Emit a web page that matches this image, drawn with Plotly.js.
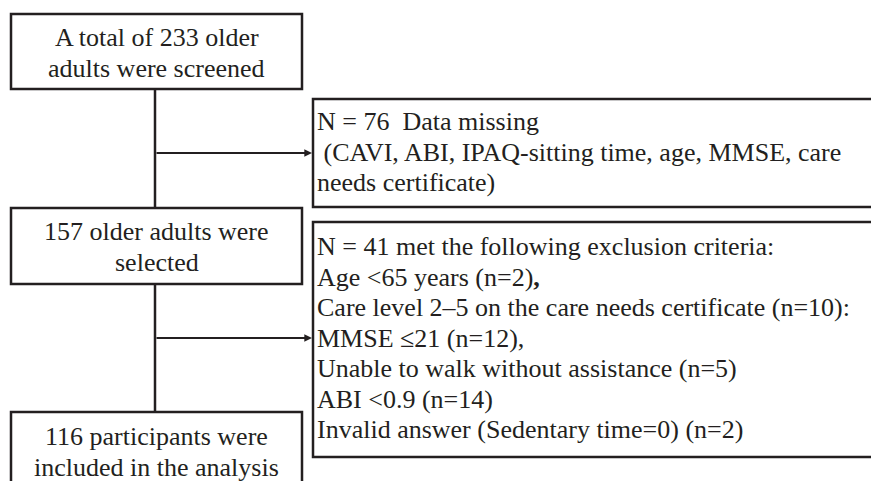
<!DOCTYPE html>
<html>
<head>
<meta charset="utf-8">
<script src="https://cdn.plot.ly/plotly-3.0.1.min.js"></script>
<style>html,body{margin:0;padding:0;background:#fff;}#chart{width:871px;height:481px;}</style>
</head>
<body>
<div id="chart"></div>
<script>
// Flowchart content
const mainSteps = [
  ["A total of 233 older", "adults were screened"],
  ["157 older adults were", "selected"],
  ["116 participants were", "included in the analysis"]
];
const exclusionLines = [
  ["N = 76 \u00a0Data missing",
   "\u00a0(CAVI, ABI, IPAQ-sitting time, age, MMSE, care",
   "needs certificate)"],
  ["N = 41 met the following exclusion criteria:",
   "Age &lt;65 years (n=2)<b>,</b>",
   "Care level 2\u20135 on the care needs certificate (n=10):",
   "MMSE \u226421 (n=12),",
   "Unable to walk without assistance (n=5)",
   "ABI &lt;0.9 (n=14)",
   "Invalid answer (Sedentary time=0) (n=2)"]
];

// Layout geometry (pixels, y downward)
const mainBoxes = [[11, 302, 14, 89], [11, 302, 208, 284], [11, 302, 412, 492]];
const mainTextY = [53, 247, 452];
const sideBoxes = [[313, 885, 99, 207], [313, 885, 222, 457]];
const sideTextY = [152, 338];
const arrowY = [153, 338];
const spineX = 155;
const lineGap = 30.5;
const ink = "#231f20";
const font = {family: "'Liberation Serif', 'Times New Roman', Times, serif", size: 26, color: ink};

const shapes = [];
const annotations = [];
function addLines(lines, x, yc, xanchor) {
  lines.forEach((t, j) => {
    annotations.push({xref: "x", yref: "y", x: x, y: yc + (j - (lines.length - 1) / 2) * lineGap,
      xanchor: xanchor, yanchor: "middle", align: xanchor === "center" ? "center" : "left",
      showarrow: false, text: t, font: font});
  });
}
mainBoxes.forEach((b, i) => {
  shapes.push({type: "rect", xref: "x", yref: "y", x0: b[0], x1: b[1], y0: b[2], y1: b[3],
    line: {color: ink, width: 2.5}, fillcolor: "rgba(0,0,0,0)"});
  addLines(mainSteps[i], (b[0] + b[1]) / 2, mainTextY[i], "center");
});
for (let i = 0; i < mainBoxes.length - 1; i++) {
  shapes.push({type: "line", xref: "x", yref: "y", x0: spineX, x1: spineX,
    y0: mainBoxes[i][3], y1: mainBoxes[i + 1][2], line: {color: ink, width: 2.5}});
}
sideBoxes.forEach((b, i) => {
  shapes.push({type: "rect", xref: "x", yref: "y", x0: b[0], x1: b[1], y0: b[2], y1: b[3],
    line: {color: ink, width: 2.5}, fillcolor: "rgba(0,0,0,0)"});
  addLines(exclusionLines[i], b[0] + 2, sideTextY[i], "left");
  annotations.push({xref: "x", yref: "y", x: b[0] - 1, y: arrowY[i],
    axref: "x", ayref: "y", ax: spineX, ay: arrowY[i], text: "",
    showarrow: true, arrowhead: 2, arrowsize: 0.7, arrowwidth: 2.2,
    arrowcolor: ink, standoff: 0, startstandoff: 0});
});

const layout = {
  width: 871, height: 481,
  margin: {l: 0, r: 0, t: 0, b: 0},
  paper_bgcolor: "#fff", plot_bgcolor: "#fff",
  xaxis: {range: [0, 871], visible: false, fixedrange: true},
  yaxis: {range: [481, 0], visible: false, fixedrange: true},
  shapes: shapes, annotations: annotations, showlegend: false
};
Plotly.newPlot("chart", [{x: [], y: [], type: "scatter"}], layout, {displayModeBar: false, staticPlot: true});
</script>
</body>
</html>
